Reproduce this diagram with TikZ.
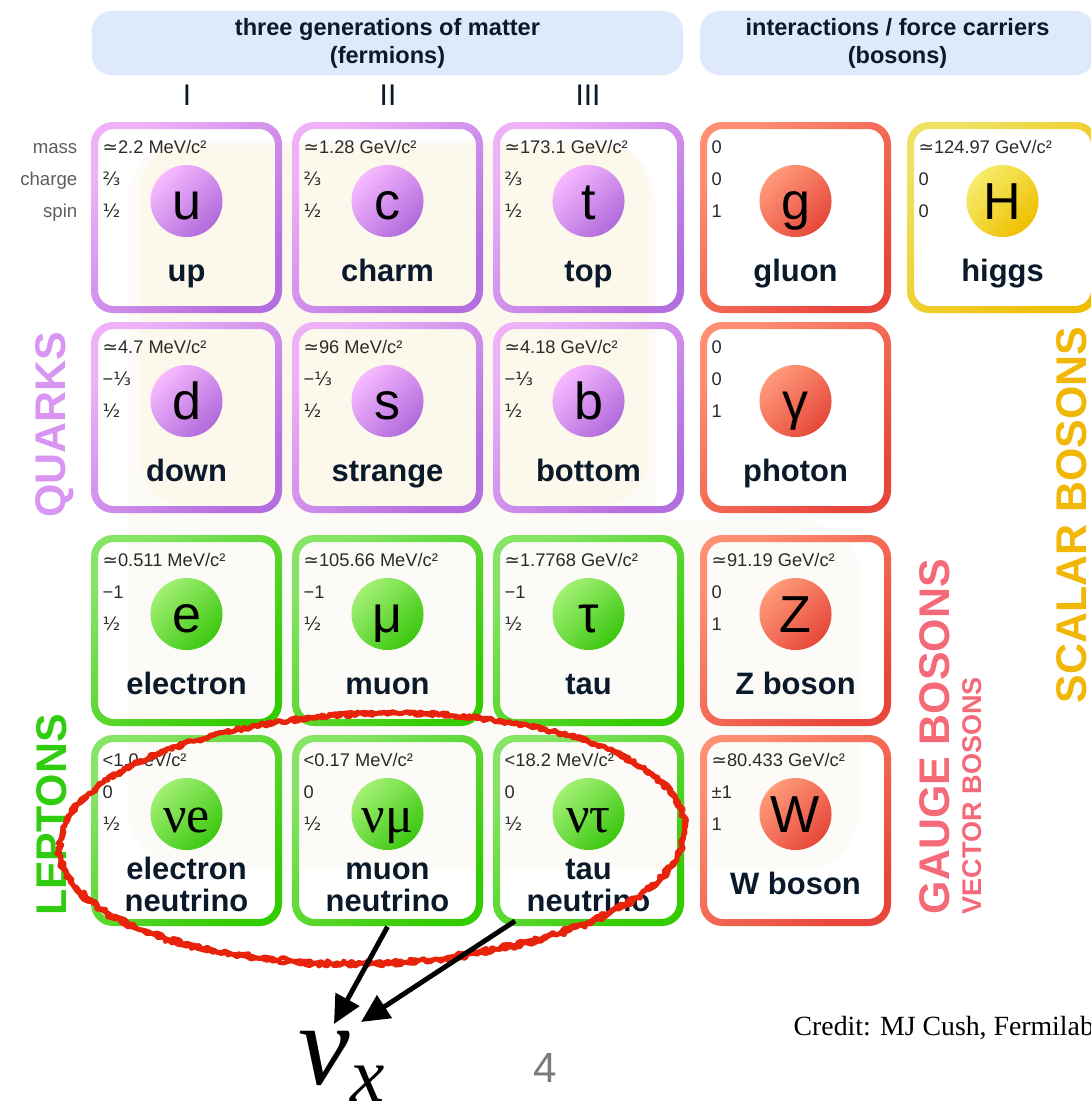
\documentclass[tikz,border=0pt]{standalone}
\usepackage{fontspec}
\setmainfont{Liberation Sans}
\newfontfamily\serifrm{Liberation Serif}
\newfontfamily\dvsans{DejaVu Sans}
\usetikzlibrary{arrows.meta,decorations.pathmorphing}

% palettes: a/b = frame gradient, c/d = disc gradient
\definecolor{qa}{HTML}{EFB2F8}\definecolor{qb}{HTML}{B46EDF}
\definecolor{qc}{HTML}{F6BAFF}\definecolor{qd}{HTML}{B26ADC}
\definecolor{la}{HTML}{86E466}\definecolor{lb}{HTML}{33CC00}
\definecolor{lc}{HTML}{A2F074}\definecolor{ld}{HTML}{3CC810}
\definecolor{ga}{HTML}{FF8E72}\definecolor{gb}{HTML}{E8463A}
\definecolor{gc}{HTML}{FF9A7A}\definecolor{gd}{HTML}{E6483A}
\definecolor{ha}{HTML}{EEE262}\definecolor{hb}{HTML}{F0BE00}
\definecolor{hc}{HTML}{F6EC6C}\definecolor{hd}{HTML}{EEBF00}
\definecolor{ink}{HTML}{0B1A2B}
\definecolor{propgray}{HTML}{2A2A2A}
\definecolor{labgray}{HTML}{5E5E5E}
\definecolor{hdrblue}{HTML}{DEE9FB}
\definecolor{bgweak}{HTML}{FDFBF7}
\definecolor{bgstrong}{HTML}{FCF8EC}
\definecolor{quarkcol}{HTML}{D896F2}
\definecolor{leptoncol}{HTML}{30CC10}
\definecolor{gaugecol}{HTML}{F46A78}
\definecolor{scalarcol}{HTML}{F2B705}
\definecolor{circlecol}{HTML}{E8230C}
\definecolor{pagegray}{HTML}{7A7A7A}

\newcommand\apx{{\dvsans ≃}}
\newcommand\tthird{{\dvsans ⅔}}
\newcommand\othird{{\dvsans ⅓}}
\newcommand\hlf{{\dvsans ½}}
\newcommand\twolines[2]{\raisebox{-5.1pt}{\begin{tabular}[b]{@{}c@{}}#1\\#2\end{tabular}}}

% one particle tile: name, left, top, palette, mass, charge, spin, symbol, label
\newcommand\cell[9]{%
  \path[top color=#4a, bottom color=#4b, shading angle=45, even odd rule]
    [rounded corners=0.22cm] (#2,-#3) rectangle ++(191,-191)
    [rounded corners=0.16cm] (#2+7,-#3-7) rectangle ++(177,-177);
  \node[cellbox] (#1) at (#2+95.5,-#3-95.5) {};
  \node[prop] (#1-m) at (#2+11,-#3-31) {#5};
  \node[prop] (#1-c) at (#2+11,-#3-63) {#6};
  \node[prop] (#1-s) at (#2+11,-#3-95) {#7};
  \shade[top color=#4c, bottom color=#4d, shading angle=45] (#2+95.5,-#3-79) circle (0.36cm);
  \node[sym] (#1-sym) at (#2+95.5,-#3-97) {#8};
  \node[lab] (#1-lab) at (#2+95.5,-#3-159) {#9};
}

\tikzset{
  cellbox/.style={minimum width=1.91cm, minimum height=1.91cm, inner sep=0pt},
  prop/.style={anchor=base west, inner sep=0pt, font=\fontsize{5.2}{6}\selectfont, text=propgray},
  sym/.style={anchor=base, inner sep=0pt, font=\fontsize{14.8}{15}\selectfont, text=black},
  lab/.style={anchor=base, inner sep=0pt, font=\fontsize{8.8}{9.1}\selectfont\bfseries, text=ink},
  rowlab/.style={anchor=base east, inner sep=0pt, font=\fontsize{5.3}{6}\selectfont, text=labgray},
  hdrbox/.style={fill=hdrblue, rounded corners=0.2cm, inner sep=0pt, align=center,
    minimum height=0.64cm, font=\fontsize{6.7}{8}\selectfont\bfseries, text=ink},
  gen/.style={inner sep=0pt, font=\fontsize{8.5}{9}\selectfont, text=ink},
  group/.style={rotate=90, inner sep=0pt, font=\fontsize{12.2}{13}\selectfont\bfseries},
  ptr/.style={line width=1.4pt, -{Triangle[length=8pt,width=7.5pt]}},
  marker/.style={circlecol, line width=1.3pt, line join=round, decorate,
    decoration={random steps, segment length=1pt, amplitude=0.6pt}},
}

\begin{document}
\begin{tikzpicture}[x=0.01cm, y=0.01cm]
\useasboundingbox (0,0) rectangle (1091,-1115);

% interaction regions behind the tiles
\fill[bgweak, rounded corners=0.6cm] (128,-140) rectangle (655,-870);
\fill[bgweak, rounded corners=0.6cm] (128,-520) rectangle (860,-870);
\fill[bgstrong, rounded corners=0.45cm] (140,-145) rectangle (648,-505);

% column headers
\node[hdrbox, minimum width=5.91cm] (fermions) at (387.5,-43) {three generations of matter\\(fermions)};
\node[hdrbox, minimum width=3.95cm] (bosons) at (897.5,-43) {interactions / force carriers\\(bosons)};
\node[gen] (gen1) at (187,-95) {I};
\node[gen] (gen2) at (388,-95) {II};
\node[gen] (gen3) at (588,-95) {III};

% row captions
\node[rowlab] (lmass) at (78,-153) {mass};
\node[rowlab] (lcharge) at (78,-185) {charge};
\node[rowlab] (lspin) at (78,-217) {spin};

% tiles
\cell{up}{91}{122}{q}{\apx2.2 MeV/c²}{\tthird}{\hlf}{u}{up}
\cell{charm}{292}{122}{q}{\apx1.28 GeV/c²}{\tthird}{\hlf}{c}{charm}
\cell{top}{493}{122}{q}{\apx173.1 GeV/c²}{\tthird}{\hlf}{t}{top}
\cell{gluon}{700}{122}{g}{0}{0}{1}{g}{gluon}
\cell{higgs}{907}{122}{h}{\apx124.97 GeV/c²}{0}{0}{H}{higgs}
\cell{down}{91}{322}{q}{\apx4.7 MeV/c²}{−\othird}{\hlf}{d}{down}
\cell{strange}{292}{322}{q}{\apx96 MeV/c²}{−\othird}{\hlf}{s}{strange}
\cell{bottom}{493}{322}{q}{\apx4.18 GeV/c²}{−\othird}{\hlf}{b}{bottom}
\cell{photon}{700}{322}{g}{0}{0}{1}{γ}{photon}
\cell{electron}{91}{535}{l}{\apx0.511 MeV/c²}{−1}{\hlf}{e}{electron}
\cell{muon}{292}{535}{l}{\apx105.66 MeV/c²}{−1}{\hlf}{μ}{muon}
\cell{tau}{493}{535}{l}{\apx1.7768 GeV/c²}{−1}{\hlf}{τ}{tau}
\cell{zboson}{700}{535}{g}{\apx91.19 GeV/c²}{0}{1}{Z}{Z boson}
\cell{nue}{91}{735}{l}{<1.0 eV/c²}{0}{\hlf}{\serifrm νe}{\twolines{electron}{neutrino}}
\cell{numu}{292}{735}{l}{<0.17 MeV/c²}{0}{\hlf}{\serifrm νμ}{\twolines{muon}{neutrino}}
\cell{nutau}{493}{735}{l}{<18.2 MeV/c²}{0}{\hlf}{\serifrm ντ}{\twolines{tau}{neutrino}}
\cell{wboson}{700}{735}{g}{\apx80.433 GeV/c²}{±1}{1}{W}{W boson}

% group captions
\node[group, text=quarkcol] (quarks) at (55,-425) {QUARKS};
\node[group, text=leptoncol] (leptons) at (52,-815) {LEPTONS};
\node[group, text=gaugecol, anchor=west] (gauge) at (935,-915) {GAUGE BOSONS};
\node[group, text=gaugecol, anchor=west, font=\fontsize{7.7}{8}\selectfont\bfseries] (vector) at (972,-915) {VECTOR BOSONS};
\node[group, text=scalarcol] (scalar) at (1072,-515) {SCALAR BOSONS};

% hand-drawn ring around the neutrinos (two passes for a marker look)
\draw[marker, rotate around={2:(372,-838)}]
  (372,-838) ellipse [x radius=3.12cm, y radius=1.24cm];
\draw[marker, rotate around={2:(372,-838)}]
  (372,-839) ellipse [x radius=3.135cm, y radius=1.255cm];

% flavour-agnostic neutrino
\node[anchor=base west, inner sep=0pt, font=\serifrm\itshape\fontsize{33}{33}\selectfont] (nux) at (298,-1084)
  {ν\raisebox{-5pt}{\fontsize{22}{22}\selectfont x}};
\coordinate (tailB) at (515,-921);
\coordinate (tipA) at (334,-1024);
\coordinate (tipB) at (361,-1022);
\draw[ptr] (numu.south) -- (tipA);
\draw[ptr] (tailB) -- (tipB);

\node[inner sep=0pt, font=\fontsize{12}{12}\selectfont, text=pagegray] (pagenum) at (545,-1068) {4};
\node[anchor=base west, inner sep=0pt, font=\serifrm\fontsize{7.9}{8}\selectfont] (credit) at (793,-1035) {Credit: MJ Cush, Fermilab};
\end{tikzpicture}
\end{document}
